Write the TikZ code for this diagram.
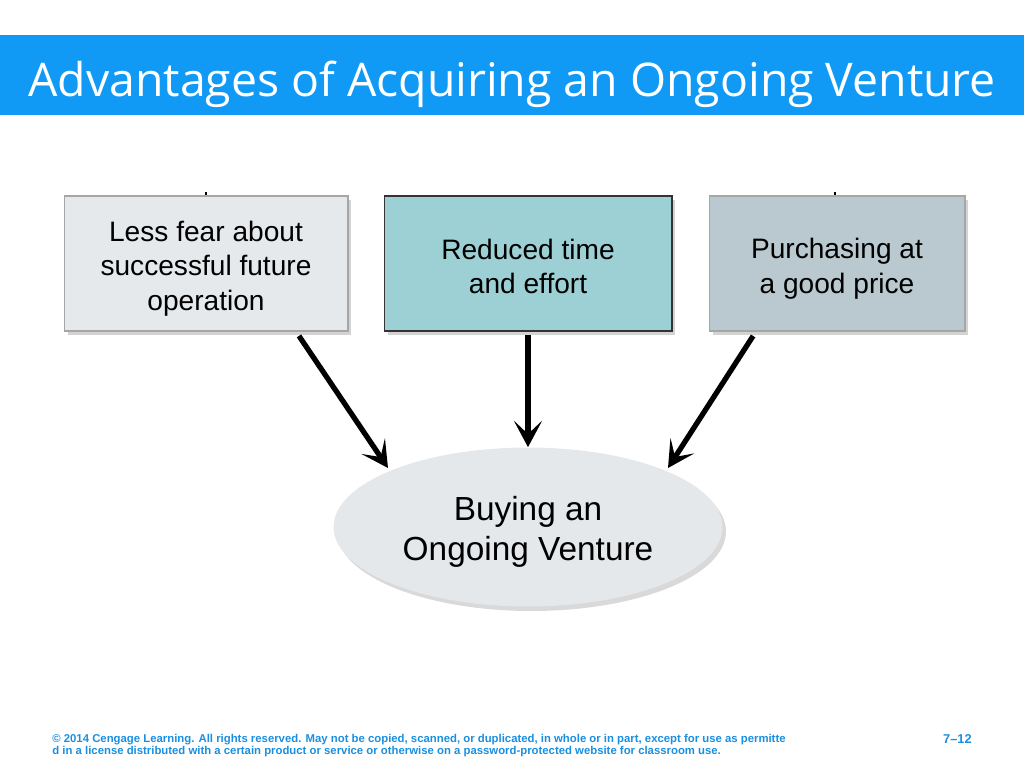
\documentclass[tikz,border=0pt]{standalone}
\usepackage{fontspec}
\setmainfont{Liberation Sans}
\newfontfamily\titlefont{Open Sans}
\usetikzlibrary{arrows.meta}
\usetikzlibrary{shadows}
\usetikzlibrary{shapes.geometric}
\definecolor{titleblue}{RGB}{16,153,245}
\definecolor{footblue}{RGB}{26,143,224}
\definecolor{boxgray}{RGB}{230,233,236}
\definecolor{boxteal}{RGB}{157,208,212}
\definecolor{boxslate}{RGB}{185,201,207}
\definecolor{ovalgray}{RGB}{228,232,235}
% struts that even out the text blocks
\newcommand{\uptop}[1]{\rule{0pt}{#1}}
\newcommand{\downbot}[1]{\rule[-#1]{0pt}{#1}}
\newcommand{\footfont}{\bfseries\fontsize{6.46}{6.3}\selectfont\lineskiplimit=-20pt\relax}
\tikzset{
  factor/.style={rectangle,draw=gray!70,line width=0.6pt,align=center,
    minimum height=2.7cm,inner sep=2pt,font=\fontsize{16}{19.5}\selectfont,
    drop shadow={shadow xshift=0.07cm,shadow yshift=-0.08cm,opacity=0.35}},
  goal/.style={ellipse,fill=ovalgray,minimum width=7.78cm,minimum height=3.18cm,
    inner sep=0pt,align=center,font=\fontsize{19}{23}\selectfont,
    drop shadow={shadow xshift=0.07cm,shadow yshift=-0.09cm,opacity=0.3}},
  push/.style={-{Stealth[length=15pt,width=16pt,inset=7.5pt]},line width=3pt,shorten <=2pt}
}
\begin{document}
\begin{tikzpicture}[x=0.02cm,y=-0.02cm]
\useasboundingbox (0,0) rectangle (1024,768);
\fill[titleblue] (0,35) rectangle (1024,115);
\node[anchor=base west,text=white,inner sep=0pt,font=\titlefont\fontsize{26.4}{30}\selectfont] (title) at (28,96) {Advantages of Acquiring an Ongoing Venture};

\node[factor,fill=boxgray,minimum width=5.68cm] (A) at (206,263.5) {\uptop{17.4pt}Less fear about\\successful future\\operation\downbot{2.9pt}};
\node[factor,fill=boxteal,draw=black!80,minimum width=5.76cm] (B) at (528,263.5) {\uptop{17.4pt}Reduced time\\and effort\downbot{2.9pt}};
\node[factor,fill=boxslate,minimum width=5.12cm] (C) at (837,263.5) {\uptop{17.4pt}Purchasing at\\a good price\downbot{2.9pt}};
\node[goal] (D) at (528,527) {\uptop{19.9pt}Buying an\\Ongoing Venture\downbot{4.4pt}};

\draw[line width=0.6pt] (A.north) ++(0,-3) coordinate (a) -- (A.north);
\draw[line width=0.6pt] (C.north) ++(-2,-3) coordinate (c) -- ++(0,3);

\coordinate (a1) at (297,333);
\coordinate (c1) at (755,333);
\path[push] (a1) edge (388,468);
\path[push] (B.south) edge (D.north);
\path[push] (c1) edge (668,468);

\node[anchor=base west,inner sep=0pt,text=footblue,align=left,font=\footfont] (foot) at (52,754) {\textcopyright{} 2014 Cengage Learning. All rights reserved. May not be copied, scanned, or duplicated, in whole or in part, except for use as permitte\\d in a license distributed with a certain product or service or otherwise on a password-protected website for classroom use.};
\node[anchor=base east,inner sep=0pt,text=footblue,font=\bfseries\fontsize{7.3}{8}\selectfont] (page) at (972,743) {7--12};
\end{tikzpicture}
\end{document}
